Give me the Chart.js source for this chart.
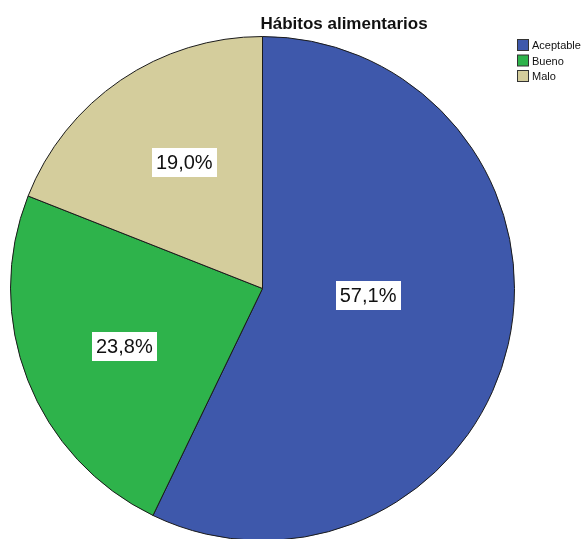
<!DOCTYPE html>
<html lang="es">
<head>
    <meta charset="UTF-8">
    <title>Hábitos alimentarios</title>
    <script src="https://cdn.jsdelivr.net/npm/chart.js@4.4.0/dist/chart.umd.min.js"></script>
    <style>
        html, body {
            margin: 0;
            padding: 0;
            background: #fff;
            overflow: hidden;
        }
        #pie {
            display: block;
        }
    </style>
</head>
<body>
    <canvas id="pie" width="585" height="545"></canvas>

<script>
const categories = ['Aceptable', 'Bueno', 'Malo'];
const percents = [57.1, 23.8, 19.0];
const sliceColors = ['#3e58ab', '#2eb34b', '#d4cd9c'];

// where each value box sits: fraction of the radius, and a tweak to the mid angle (degrees)
const labelRadius = [0.42, 0.595, 0.59];
const labelAngleShift = [-9, -1.5, 2.5];

const fmt = v => v.toFixed(1).replace('.', ',') + '%';

// title, legend and the white value boxes, SPSS style
const spssDecor = {
    id: 'spssDecor',
    afterDatasetsDraw(chart) {
        const ctx = chart.ctx;
        const arcs = chart.getDatasetMeta(0).data;
        ctx.save();

        ctx.font = '20px "Liberation Sans", Arial, sans-serif';
        ctx.textAlign = 'center';
        ctx.textBaseline = 'middle';
        arcs.forEach((arc, i) => {
            const mid = (arc.startAngle + arc.endAngle) / 2 + labelAngleShift[i] * Math.PI / 180;
            const r = arc.outerRadius * labelRadius[i];
            const x = arc.x + Math.cos(mid) * r;
            const y = arc.y + Math.sin(mid) * r;
            const txt = fmt(percents[i]);
            const w = ctx.measureText(txt).width + 8;
            const h = 29;
            ctx.fillStyle = '#ffffff';
            ctx.fillRect(Math.round(x - w / 2), Math.round(y - h / 2), Math.round(w), h);
            ctx.fillStyle = '#111111';
            ctx.fillText(txt, x, y + 1);
        });

        // title
        ctx.font = 'bold 17px "Liberation Sans", Arial, sans-serif';
        ctx.textAlign = 'center';
        ctx.textBaseline = 'alphabetic';
        ctx.fillStyle = '#111111';
        ctx.fillText('Hábitos alimentarios', 344, 29);

        // legend
        ctx.font = '11px "Liberation Sans", Arial, sans-serif';
        ctx.textAlign = 'left';
        ctx.textBaseline = 'middle';
        categories.forEach((c, i) => {
            const cy = 45 + i * 15.5;
            ctx.fillStyle = sliceColors[i];
            ctx.fillRect(517.5, cy - 5.5, 11, 11);
            ctx.strokeStyle = '#333333';
            ctx.lineWidth = 1;
            ctx.strokeRect(517.5, cy - 5.5, 11, 11);
            ctx.fillStyle = '#111111';
            ctx.fillText(c, 532, cy + 1);
        });

        ctx.restore();
    }
};

new Chart(document.getElementById('pie'), {
    type: 'pie',
    data: {
        labels: categories,
        datasets: [{
            data: percents,
            backgroundColor: sliceColors,
            borderColor: '#1a1a1a',
            borderWidth: 1,
            borderAlign: 'center'
        }]
    },
    options: {
        responsive: false,
        animation: false,
        events: [],
        layout: {
            padding: { left: 10, top: 36, right: 70, bottom: 4 }
        },
        plugins: {
            legend: { display: false },
            title: { display: false },
            tooltip: { enabled: false }
        }
    },
    plugins: [spssDecor]
});
</script>
</body>
</html>
